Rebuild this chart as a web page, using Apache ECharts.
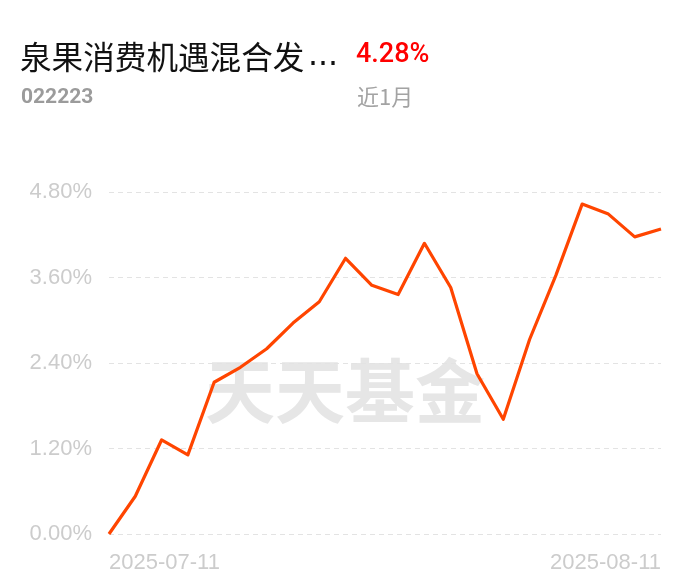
<!DOCTYPE html>
<html>
<head>
<meta charset="utf-8">
<script src="https://cdn.jsdelivr.net/npm/echarts@6/dist/echarts.min.js"></script>
<style>
html,body{margin:0;padding:0;background:#fff;}
#main{width:690px;height:585px;}
</style>
</head>
<body>
<div id="main"></div>
<script>
const dates = ['2025-07-11','2025-07-14','2025-07-15','2025-07-16','2025-07-17','2025-07-18',
  '2025-07-21','2025-07-22','2025-07-23','2025-07-24','2025-07-25',
  '2025-07-28','2025-07-29','2025-07-30','2025-07-31','2025-08-01',
  '2025-08-04','2025-08-05','2025-08-06','2025-08-07','2025-08-08','2025-08-11'];
const returns = [0, 0.53, 1.32, 1.11, 2.13, 2.34, 2.60, 2.96, 3.26, 3.87, 3.49,
  3.36, 4.08, 3.46, 2.25, 1.61, 2.73, 3.63, 4.63, 4.49, 4.17, 4.28];
const yTicks = [0, 1.2, 2.4, 3.6, 4.8];
const fundName = '泉果消费机遇混合发';
const ellipsis = '...';
const fundCode = '022223';
const periodReturn = '4.28%';
const periodLabel = '近1月';
const watermark = '天天基金';

const chart = echarts.init(document.getElementById('main'), null, {renderer: 'canvas'});
chart.setOption({
  backgroundColor: '#ffffff',
  animation: false,
  grid: {left: 109, right: 29, top: 192, bottom: 51, containLabel: false},
  graphic: [
    {type: 'text', z: 0, style: {x: 20, y: 57, text: fundName, font: '31.6px "Noto Sans CJK SC"', fill: '#111111', verticalAlign: 'middle', align: 'left'}},
    {type: 'text', z: 0, style: {x: 308, y: 57, text: ellipsis, font: '31.6px "DejaVu Sans"', fill: '#111111', verticalAlign: 'middle', align: 'left'}},
    {type: 'text', z: 0, style: {x: 356, y: 55, text: periodReturn, font: '500 27px Roboto', fill: '#ff0000', verticalAlign: 'middle', align: 'left'}},
    {type: 'text', z: 0, style: {x: 21, y: 98, text: fundCode, font: 'bold 21px Roboto', fill: '#9b9b9b', verticalAlign: 'middle', align: 'left'}},
    {type: 'text', z: 0, style: {x: 357, y: 97, text: periodLabel, font: '22px "Noto Sans CJK SC"', fill: '#a3a3a3', verticalAlign: 'middle', align: 'left'}},
    {type: 'text', z: 0, style: {x: 345, y: 391, text: watermark, font: 'bold 70px "Noto Sans CJK SC"', fill: '#e6e6e6', verticalAlign: 'middle', align: 'center'}}
  ],
  xAxis: {
    type: 'category',
    data: dates,
    boundaryGap: false,
    axisLine: {show: false},
    axisTick: {show: false},
    splitLine: {show: false},
    axisLabel: {
      interval: function (i) { return i === 0 || i === dates.length - 1; },
      showMinLabel: true,
      showMaxLabel: true,
      alignMinLabel: 'left',
      alignMaxLabel: 'right',
      color: '#cccccc',
      fontSize: 22,
      fontFamily: '"Liberation Sans", Arial',
      margin: 18
    }
  },
  yAxis: {
    type: 'value',
    min: yTicks[0],
    max: yTicks[yTicks.length - 1],
    interval: 1.2,
    axisLine: {show: false},
    axisTick: {show: false},
    splitLine: {show: true, lineStyle: {color: '#e3e3e3', width: 1, type: [5, 4]}},
    axisLabel: {
      formatter: function (v) { return v.toFixed(2) + '%'; },
      color: '#cccccc',
      fontSize: 22,
      fontFamily: '"Liberation Sans", Arial',
      margin: 17
    }
  },
  series: [{
    type: 'line',
    data: returns,
    symbol: 'none',
    z: 5,
    lineStyle: {color: '#ff4500', width: 3.2, join: 'round'},
    itemStyle: {color: '#ff4500'}
  }]
});
</script>
</body>
</html>
